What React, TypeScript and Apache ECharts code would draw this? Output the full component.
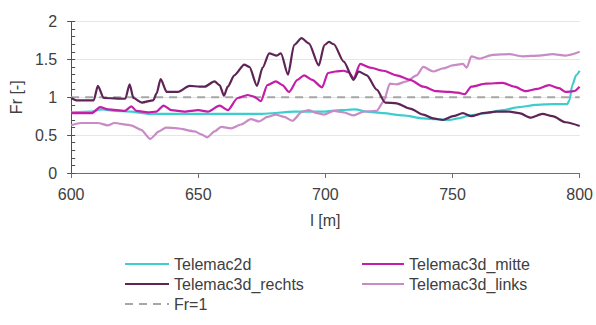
import React, { useEffect, useRef } from "react";
import * as echarts from "echarts";

// Froude number along the reach (l in m), one [l, Fr] pair per point
const telemac2d: [number, number][] = [
  [600, 0.8], [608, 0.81], [612, 0.84], [617.2, 0.82], [623.7, 0.81], [630.2, 0.78],
  [640, 0.78], [650, 0.78], [660, 0.78], [675, 0.78], [687.7, 0.81], [699.4, 0.81],
  [705.9, 0.83], [711.8, 0.84], [716.3, 0.81], [722.8, 0.79], [730.6, 0.76], [738.5, 0.72],
  [743.7, 0.71], [748.9, 0.7], [752.1, 0.72], [756.7, 0.76], [763.2, 0.79], [769.7, 0.83],
  [776.2, 0.87], [782.8, 0.9], [789.3, 0.91], [795.1, 0.91], [796, 0.96], [797.1, 1.16],
  [798.6, 1.29], [800, 1.35],
];

const telemac3dMitte: [number, number][] = [
  [600, 0.79], [608.1, 0.79], [611.4, 0.87], [614.6, 0.84], [621.1, 0.82], [623.7, 0.88],
  [625.7, 0.82], [630.2, 0.8], [633.5, 0.81], [636.4, 0.89], [639.4, 0.83], [644.6, 0.81],
  [650, 0.83], [653.8, 0.81], [658.4, 0.89], [661.6, 0.83], [665.5, 0.99], [669.4, 1.03],
  [671.8, 1.01], [674.6, 0.95], [677.2, 1.16], [680.5, 1.21], [683.1, 1.16], [685.7, 1.07],
  [689, 1.23], [691.6, 1.29], [694.8, 1.23], [698.7, 1.13], [701, 1.32], [704, 1.34],
  [707.2, 1.35], [709.2, 1.33], [711.1, 1.25], [713.7, 1.44], [717.6, 1.39], [722.8, 1.35],
  [728, 1.29], [733.3, 1.23], [738.5, 1.14], [743.7, 1.08], [748.9, 1.07], [752.1, 1.06],
  [754.8, 1.04], [757.4, 1.14], [763.2, 1.18], [769.7, 1.19], [774.3, 1.14], [778.8, 1.08],
  [783.4, 1.11], [788, 1.16], [791.9, 1.12], [794.5, 1.07], [797.7, 1.08], [800, 1.14],
];

const telemac3dRechts: [number, number][] = [
  [600, 0.99], [602, 0.96], [608.9, 0.96], [610.5, 1.15], [612.8, 0.99], [621.3, 0.98],
  [623, 1.17], [624.5, 0.99], [627.8, 0.93], [632.3, 0.96], [633.6, 1.05], [635.2, 1.24],
  [637.6, 1.07], [642, 1.07], [646.6, 1.15], [650.5, 1.14], [652.5, 1.14], [656.4, 1.21],
  [658.4, 1.16], [660.1, 1.02], [661.6, 1.14], [664.2, 1.29], [668.1, 1.43], [670.1, 1.4],
  [673.1, 1.15], [675.3, 1.39], [677.9, 1.58], [680.9, 1.55], [682.5, 1.58], [685.3, 1.3],
  [687.7, 1.69], [690.6, 1.78], [693.5, 1.71], [697.4, 1.42], [699.6, 1.69], [701.4, 1.73],
  [703.3, 1.7], [707.2, 1.47], [711.1, 1.23], [713.1, 1.34], [716.3, 1.29], [720.2, 1.1],
  [723.5, 0.93], [728, 0.92], [733.3, 0.85], [738.5, 0.77], [742.4, 0.72], [746.3, 0.7],
  [750.2, 0.75], [754.1, 0.79], [757.4, 0.75], [761.9, 0.79], [767.1, 0.81], [772.3, 0.81],
  [776.2, 0.79], [780.8, 0.73], [785.4, 0.78], [789.3, 0.75], [794.5, 0.67], [800, 0.62],
];

const telemac3dLinks: [number, number][] = [
  [600, 0.63], [603.9, 0.66], [610.5, 0.66], [614.4, 0.63], [617, 0.66], [623.5, 0.63],
  [627.5, 0.57], [631.1, 0.45], [634.6, 0.55], [637.3, 0.6], [641.8, 0.59], [648.6, 0.55],
  [651.2, 0.51], [653.5, 0.47], [656.4, 0.55], [659, 0.61], [662.9, 0.59], [666.8, 0.64],
  [670.7, 0.71], [674, 0.68], [677.2, 0.74], [680.5, 0.77], [683.8, 0.74], [687, 0.69],
  [690.9, 0.81], [693.5, 0.83], [696.8, 0.79], [699.4, 0.77], [703.3, 0.82], [707.2, 0.8],
  [711.1, 0.76], [715, 0.81], [720.2, 0.82], [722.8, 0.94], [725.4, 1.18], [728, 1.17],
  [731.9, 1.21], [735.9, 1.29], [738.5, 1.4], [742.4, 1.34], [746.3, 1.38], [750, 1.42],
  [754.1, 1.44], [755.6, 1.39], [757.4, 1.54], [760.6, 1.51], [765.8, 1.56], [772.3, 1.57],
  [777.5, 1.54], [784.1, 1.55], [789.3, 1.57], [794.5, 1.55], [800, 1.6],
];

// critical flow reference line
const frCritical: [number, number][] = [
  [600, 1],
  [800, 1],
];

const xTicks = { min: 600, max: 800, interval: 50 };
const yTicks = { min: 0, max: 2, interval: 0.5 };

const FONT = "'Liberation Sans', Arial, sans-serif";
const TEXT = "#404040";

export default function App() {
  const ref = useRef<HTMLDivElement>(null);

  useEffect(() => {
    document.body.style.margin = "0";
    if (!ref.current) return;
    const chart = echarts.init(ref.current, undefined, { renderer: "svg" });

    // legend keys show only the line, the marker is hidden
    const legendBase = {
      itemWidth: 44,
      itemHeight: 14,
      selectedMode: false,
      padding: 0,
      itemStyle: { opacity: 0 },
      textStyle: { fontSize: 16, color: TEXT, fontFamily: FONT },
    };

    const line = (name: string, data: [number, number][], color: string) => ({
      name,
      type: "line",
      data,
      symbol: "none",
      showSymbol: false,
      smooth: 0.25,
      smoothMonotone: "x",
      lineStyle: { color, width: 2.2 },
      itemStyle: { color },
    });

    chart.setOption({
      animation: false,
      textStyle: { fontFamily: FONT },
      grid: { left: 70.5, right: 13.3, top: 21.5, bottom: 152 },
      xAxis: {
        type: "value",
        ...xTicks,
        name: "l [m]",
        nameLocation: "middle",
        nameGap: 39,
        nameTextStyle: { fontSize: 16, color: TEXT },
        axisLine: { lineStyle: { color: "#6e6e6e", width: 1 } },
        axisTick: { show: true, length: 5, lineStyle: { color: "#6e6e6e" } },
        axisLabel: { fontSize: 16, color: TEXT, margin: 13 },
        splitLine: { show: false },
      },
      yAxis: [
        {
          type: "value",
          ...yTicks,
          name: "Fr [-]",
          nameLocation: "middle",
          nameGap: 47,
          nameTextStyle: { fontSize: 16, color: TEXT },
          axisLine: { show: true, lineStyle: { color: "#505050", width: 1 } },
          axisTick: { show: true, length: 4, lineStyle: { color: "#505050" } },
          axisLabel: {
            fontSize: 16,
            color: TEXT,
            margin: 14,
            formatter: (v: number) => String(v),
          },
          splitLine: { show: true, lineStyle: { color: "#e6e6e6", width: 1 } },
        },
        {
          // inner half of the major ticks plus the minor ticks
          type: "value",
          position: "left",
          ...yTicks,
          axisLine: { show: false },
          axisLabel: { show: false },
          axisTick: { show: true, inside: true, length: 4, lineStyle: { color: "#505050" } },
          minorTick: { show: true, splitNumber: 5, length: 4, lineStyle: { color: "#505050" } },
          splitLine: { show: false },
        },
      ],
      legend: [
        { ...legendBase, data: ["Telemac2d"], left: 124, top: 256 },
        { ...legendBase, data: ["Telemac3d_mitte"], left: 361, top: 256, itemWidth: 42 },
        { ...legendBase, data: ["Telemac3d_rechts"], left: 124, top: 276 },
        { ...legendBase, data: ["Telemac3d_links"], left: 361, top: 276, itemWidth: 42 },
        { ...legendBase, data: ["Fr=1"], left: 124, top: 296 },
      ],
      series: [
        {
          name: "Fr=1",
          type: "line",
          data: frCritical,
          symbol: "none",
          showSymbol: false,
          lineStyle: { color: "#a6a6a6", width: 2, type: [8, 6] },
          itemStyle: { color: "#a6a6a6" },
        },
        line("Telemac2d", telemac2d, "#3ccdd0"),
        line("Telemac3d_links", telemac3dLinks, "#c98bc6"),
        line("Telemac3d_mitte", telemac3dMitte, "#c41da8"),
        line("Telemac3d_rechts", telemac3dRechts, "#5e2456"),
      ],
    });

    return () => chart.dispose();
  }, []);

  return <div ref={ref} style={{ width: 596, height: 325 }} />;
}
